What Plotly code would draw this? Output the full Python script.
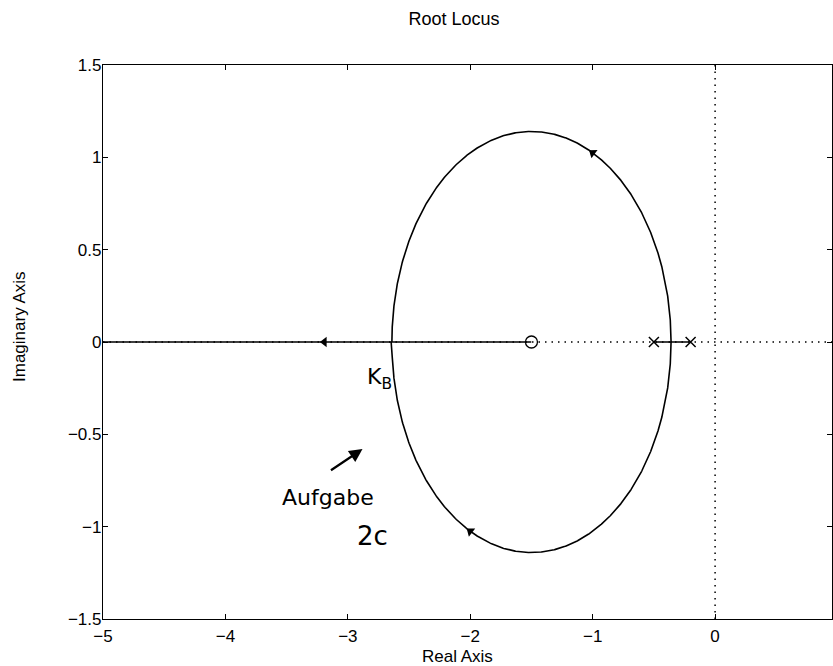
import numpy as np
import plotly.graph_objects as go

# ---- data ----
poles = [-0.5, -0.2]
zeros = [-1.5]
gain_exponents = (-5.0, 3.0)
n_gains = 4000
arrow_gains = [1.3, 3.3, 4.76]   # gains at which direction arrows are drawn
arrow_branch = [0, 1, 1]
x_ticks = [-5, -4, -3, -2, -1, 0]
y_ticks = [-1.5, -1, -0.5, 0, 0.5, 1, 1.5]
x_range = [-5, 0.955]
y_range = [-1.5, 1.5]

# ---- layout constants ----
W, H = 833, 666
ML, MR, MT, MB = 103, 1, 65, 47
PW, PH = W - ML - MR, H - MT - MB
sx = PW / (x_range[1] - x_range[0])
sy = PH / (y_range[1] - y_range[0])

den = np.poly(poles)
num = np.poly(zeros)


def branch_roots(k):
    char = np.polyadd(den, k * num)
    r = np.roots(char)
    r = np.where(np.abs(r.imag) < 1e-7, r.real + 0j, r)
    r = sorted(r, key=lambda z: (z.imag, z.real), reverse=True)
    return r


# breakaway / break-in gains (refine sampling there)
bp = np.roots(np.polysub(np.polymul(np.polyder(den), num), np.polymul(den, np.polyder(num))))
kb = [(-np.polyval(den, s) / np.polyval(num, s)).real for s in bp]
kb = [k for k in kb if k > 0]
offs = np.logspace(-10, -0.5, 500)
extra = []
for k in kb:
    extra += list(k * (1 - offs)) + list(k * (1 + offs)) + [k]
gains = np.unique(np.concatenate([[0.0], np.logspace(*gain_exponents, n_gains), extra]))
branches = np.array([branch_roots(k) for k in gains])

fig = go.Figure()

for b in range(branches.shape[1]):
    fig.add_trace(go.Scatter(x=branches[:, b].real, y=branches[:, b].imag,
                             mode="lines", line=dict(color="black", width=1.6),
                             hoverinfo="skip", showlegend=False))

# direction arrows
ax_, ay_, ang_ = [], [], []
for k, b in zip(arrow_gains, arrow_branch):
    p0 = branch_roots(k)[b]
    p1 = branch_roots(k * 1.02)[b]
    dx = (p1.real - p0.real) * sx
    dy = (p1.imag - p0.imag) * sy
    ax_.append(p0.real)
    ay_.append(p0.imag)
    ang_.append(np.degrees(np.arctan2(dx, dy)))
fig.add_trace(go.Scatter(x=ax_, y=ay_, mode="markers",
                         marker=dict(symbol="triangle-up", size=9, color="black", angle=ang_),
                         hoverinfo="skip", showlegend=False))

# poles and zeros
fig.add_trace(go.Scatter(x=poles, y=[0] * len(poles), mode="markers",
                         marker=dict(symbol="x-thin", size=10, line=dict(color="black", width=1.5)),
                         showlegend=False))
fig.add_trace(go.Scatter(x=zeros, y=[0] * len(zeros), mode="markers",
                         marker=dict(symbol="circle-open", size=12, color="black",
                                     line=dict(color="black", width=1.3)),
                         showlegend=False))

# dotted zero lines
dots = dict(color="black", width=1.5, dash="1.5px,5px")
fig.add_shape(type="line", xref="x", yref="y domain", x0=0, x1=0, y0=0, y1=1,
              line=dots, layer="below")
fig.add_shape(type="line", xref="x domain", yref="y", x0=0, x1=1, y0=0, y1=0,
              line=dots, layer="below")

hand = dict(family="DejaVu Sans", size=22, color="black")
fig.add_annotation(x=-2.74, y=-0.2, xref="x", yref="y", text="K<sub>B</sub>",
                   showarrow=False, font=hand)
fig.add_annotation(x=-3.16, y=-0.84, xref="x", yref="y", text="Aufgabe",
                   showarrow=False, font=hand)
fig.add_annotation(x=-2.80, y=-1.05, xref="x", yref="y", text="2c",
                   showarrow=False, font=dict(family="DejaVu Sans", size=26, color="black"))
fig.add_annotation(x=-2.88, y=-0.58, ax=-3.15, ay=-0.70, xref="x", yref="y",
                   axref="x", ayref="y", text="", showarrow=True,
                   arrowhead=2, arrowsize=1.2, arrowwidth=2.2, arrowcolor="black")

lab = dict(family="Liberation Sans, Arial", size=17, color="black")
fig.add_annotation(x=(20 - ML) / PW, y=(H - MB - 327) / PH, xref="paper", yref="paper",
                   xanchor="center", yanchor="middle",
                   text="Imaginary Axis", textangle=-90, showarrow=False, font=lab)
fig.add_annotation(x=(457 - ML) / PW, y=-(656 - (H - MB)) / PH, xref="paper", yref="paper",
                   xanchor="center", yanchor="middle",
                   text="Real Axis", showarrow=False, font=lab)

fig.update_layout(
    width=W, height=H,
    margin=dict(l=ML, r=MR, t=MT, b=MB),
    paper_bgcolor="white", plot_bgcolor="white",
    title=dict(text="Root Locus", x=454 / W, y=1 - 19 / H, xref="container", yref="container",
               xanchor="center", yanchor="middle",
               font=dict(family="Liberation Sans, Arial", size=18, color="black")),
    font=dict(family="Liberation Sans, Arial", size=17, color="black"),
)
fig.update_xaxes(range=x_range, tickvals=x_ticks, ticks="inside", ticklen=5,
                 showgrid=False, zeroline=False, showline=True, linecolor="black",
                 linewidth=1.3, mirror="ticks", tickcolor="black", tickfont=dict(size=17),
                 ticklabelstandoff=1)
fig.update_yaxes(range=y_range, tickvals=y_ticks, ticks="inside", ticklen=5,
                 showgrid=False, zeroline=False, showline=True, linecolor="black",
                 linewidth=1.3, mirror="ticks", tickcolor="black", tickfont=dict(size=17),
                 ticklabelstandoff=-3)

fig.write_html("out.html", config={"displayModeBar": False},
               post_script="document.body.style.margin='0';document.body.style.overflow='hidden';")
